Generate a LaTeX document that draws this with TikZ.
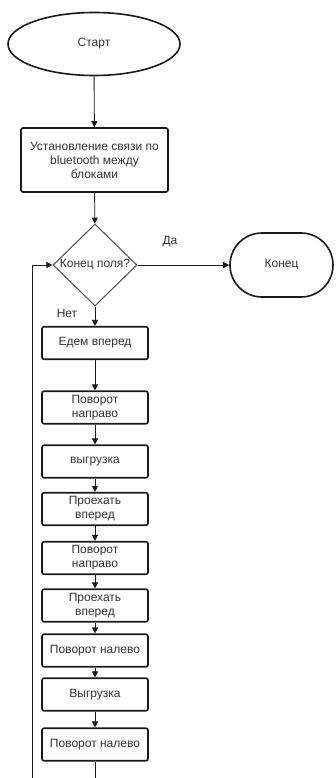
\documentclass[tikz,border=0pt]{standalone}
\usepackage{fontspec}
\setmainfont{Liberation Sans}
\usetikzlibrary{shapes.geometric,arrows.meta}
\begin{document}
\begin{tikzpicture}[x=1pt,y=-1pt,
  txt/.style={text=black!80,font=\fontsize{12}{14}\selectfont,align=center},
  box/.style={txt,draw=black!90,line width=1.6pt,rounded corners=2pt,minimum width=106pt,minimum height=32.5pt,inner sep=1pt},
  term/.style={txt,draw=black!90,line width=1.6pt},
  arr/.style={draw=black!90,line width=0.9pt,-{Triangle[length=6pt,width=6pt]}},
  ln/.style={draw=black!90,line width=0.9pt}]
\useasboundingbox (0,0) rectangle (335,778);
\node[term,ellipse,minimum width=172pt,minimum height=63pt,inner sep=0] (start) at (94,44) {Старт};
\node[box,minimum width=147pt,minimum height=64pt] (conn) at (94.5,160) {Установление связи по\\bluetooth между\\блоками};
\node[txt,diamond,draw=black!65,line width=1.1pt,minimum width=84pt,minimum height=82pt,inner sep=0] (dec) at (95,265) {Конец поля?};
\node[term,rounded corners=32pt,minimum width=103pt,minimum height=64pt] (end) at (281.5,265) {Конец};
\node[txt] (yes) at (170,242) {Да};
\node[txt] (no) at (67,313) {Нет};
\node[box] (b1) at (95,343) {Едем вперед};
\node[box] (b2) at (95,407.5) {Поворот\\направо};
\node[box] (b3) at (95,461.5) {выгрузка};
\node[box] (b4) at (95,509) {Проехать\\вперед};
\node[box] (b5) at (95,558) {Поворот\\направо};
\node[box] (b6) at (95,605.5) {Проехать\\вперед};
\node[box] (b7) at (95,650.5) {Поворот налево};
\node[box] (b8) at (95,694.5) {Выгрузка};
\node[box] (b9) at (95,744.5) {Поворот налево};
\coordinate (bot) at (95,778);
\coordinate (lbot) at (32,778);
\draw[arr] (start) -- (conn);
\draw[arr] (conn) -- (dec);
\draw[arr] (dec) -- (end);
\draw[arr] (dec) -- (b1);
\draw[arr] (b1) -- (b2);
\draw[arr] (b2) -- (b3);
\draw[arr] (b3) -- (b4);
\draw[arr] (b4) -- (b5);
\draw[arr] (b5) -- (b6);
\draw[arr] (b6) -- (b7);
\draw[arr] (b7) -- (b8);
\draw[arr] (b8) -- (b9);
\draw[ln] (b9) -- (bot);
\draw[arr] (lbot) |- (dec.west);
\end{tikzpicture}
\end{document}
